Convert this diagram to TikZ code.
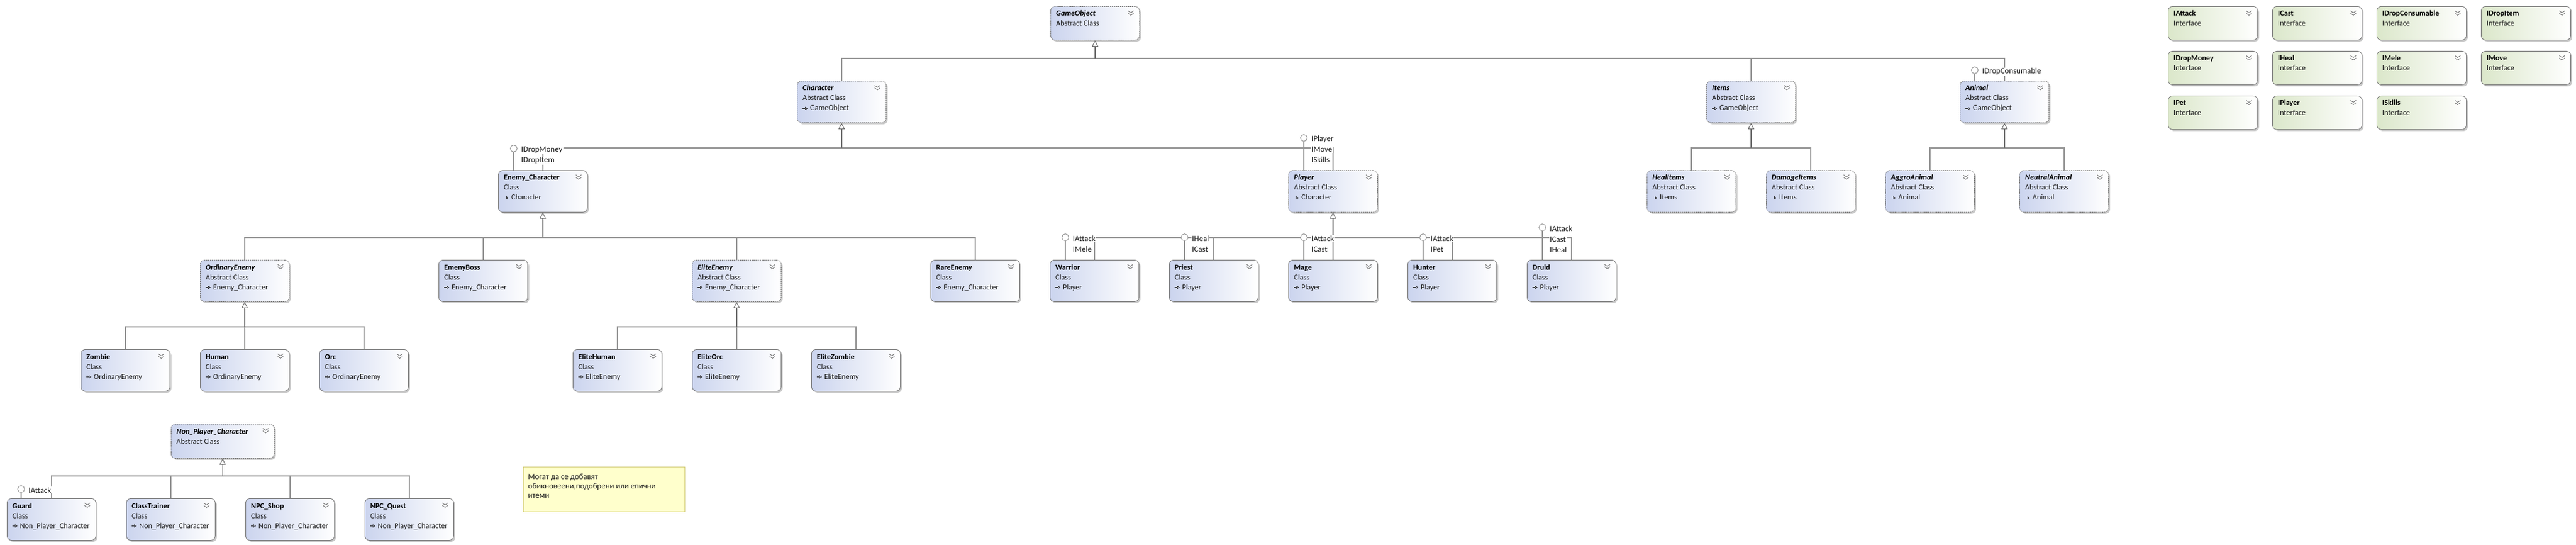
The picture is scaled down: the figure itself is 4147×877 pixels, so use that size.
\documentclass[tikz,border=0pt]{standalone}
\usepackage{fontspec}
\setmainfont{Carlito}
\usetikzlibrary{arrows.meta,shadows,calc}
\definecolor{clsblue}{RGB}{203,212,238}
\definecolor{ifgreen}{RGB}{219,231,202}
\definecolor{boxline}{RGB}{118,118,118}
\definecolor{linegray}{RGB}{150,150,150}
\definecolor{trunkgray}{RGB}{112,112,112}
\definecolor{notefill}{RGB}{255,255,204}
\definecolor{noteline}{RGB}{212,206,126}
\definecolor{txt}{RGB}{30,30,30}
\tikzset{
  boxbase/.style={rounded corners=7pt, draw=boxline, line width=0.8pt, left color=clsblue, right color=white,
    drop shadow={shadow xshift=2.5pt, shadow yshift=-2.5pt, fill=black!35, opacity=0.6}, inner sep=0pt},
  clsbox/.style={boxbase},
  absbox/.style={boxbase, dash pattern=on 2pt off 1.2pt},
  ifbox/.style={boxbase, left color=ifgreen},
  ttl/.style={font=\fontsize{12.3}{14}\selectfont\bfseries, text=black, inner sep=0pt},
  sub/.style={font=\fontsize{12.3}{14}\selectfont\upshape\mdseries, text=txt, inner sep=0pt},
  chev/.style={draw=black!55, line width=0.9pt},
  smarr/.style={draw=txt, line width=0.7pt, -{Triangle[open, length=4pt, width=5pt]}},
  br/.style={draw=linegray, line width=1.2pt},
  trk/.style={draw=trunkgray, line width=1.6pt, -{Triangle[open, length=10pt, width=10pt, line width=1pt, fill=white]}},
  lolli/.style={circle, draw=linegray, fill=white, line width=1pt, minimum size=11pt, inner sep=0pt},
  lbl/.style={anchor=base west, fill=white, inner xsep=1pt, inner ysep=1pt, text=txt, font=\fontsize{13}{15}\selectfont\upshape},
  notebox/.style={draw=noteline, fill=notefill, line width=1.2pt, inner sep=0pt},
  notetxt/.style={anchor=base west, inner sep=0pt, text=txt, font=\fontsize{13}{15}\selectfont\upshape}
}
% #1 name, #2 x, #3 y, #4 w, #5 h, #6 style, #7 title, #8 subtitle
\newcommand\umlbox[8]{%
  \node[#6, minimum width=#4pt, minimum height=#5pt, anchor=north west] (#1) at (#2,#3) {};
  \node[ttl, anchor=base west] (#1t) at (#2+9,#3+16) {#7};
  \node[sub, anchor=base west] (#1s) at (#2+9,#3+32) {#8};
  \draw[chev] (#2+#4-18,#3+7.5) -- (#2+#4-13.5,#3+10.5) -- (#2+#4-9,#3+7.5);
  \draw[chev] (#2+#4-18,#3+11.5) -- (#2+#4-13.5,#3+14.5) -- (#2+#4-9,#3+11.5);
}
% #1 name, #2 x, #3 y, #4 parent
\newcommand\umlpar[4]{%
  \draw[smarr] (#2+9,#3+44.5) -- (#2+17,#3+44.5);
  \node[sub, anchor=base west] (#1p) at (#2+21,#3+48) {#4};
}
\begin{document}
\begin{tikzpicture}[x=1pt,y=-1pt]
\fill[white] (0,0) rectangle (4147,877);
\useasboundingbox (0,0) rectangle (4147,877);

% ---- boxes
\umlbox{go}{1691}{10}{143}{54}{absbox}{\itshape GameObject}{Abstract Class}
\umlbox{chr}{1283}{130}{143}{67}{absbox}{\itshape Character}{Abstract Class}\umlpar{chr}{1283}{130}{GameObject}
\umlbox{itm}{2747}{130}{143}{67}{absbox}{\itshape Items}{Abstract Class}\umlpar{itm}{2747}{130}{GameObject}
\umlbox{anm}{3155}{130}{143}{67}{absbox}{\itshape Animal}{Abstract Class}\umlpar{anm}{3155}{130}{GameObject}

\umlbox{ench}{802}{274}{143}{67}{clsbox}{Enemy\_Character}{Class}\umlpar{ench}{802}{274}{Character}
\umlbox{plr}{2074}{274}{143}{67}{absbox}{\itshape Player}{Abstract Class}\umlpar{plr}{2074}{274}{Character}
\umlbox{heal}{2651}{274}{143}{67}{absbox}{\itshape HealItems}{Abstract Class}\umlpar{heal}{2651}{274}{Items}
\umlbox{dmg}{2843}{274}{143}{67}{absbox}{\itshape DamageItems}{Abstract Class}\umlpar{dmg}{2843}{274}{Items}
\umlbox{aggr}{3035}{274}{143}{67}{absbox}{\itshape AggroAnimal}{Abstract Class}\umlpar{aggr}{3035}{274}{Animal}
\umlbox{neut}{3251}{274}{143}{67}{absbox}{\itshape NeutralAnimal}{Abstract Class}\umlpar{neut}{3251}{274}{Animal}

\umlbox{ord}{322}{418}{143}{67}{absbox}{\itshape OrdinaryEnemy}{Abstract Class}\umlpar{ord}{322}{418}{Enemy\_Character}
\umlbox{boss}{706}{418}{143}{67}{clsbox}{EmenyBoss}{Class}\umlpar{boss}{706}{418}{Enemy\_Character}
\umlbox{elite}{1114}{418}{143}{67}{absbox}{\itshape EliteEnemy}{Abstract Class}\umlpar{elite}{1114}{418}{Enemy\_Character}
\umlbox{rare}{1498}{418}{143}{67}{clsbox}{RareEnemy}{Class}\umlpar{rare}{1498}{418}{Enemy\_Character}
\umlbox{war}{1690}{418}{143}{67}{clsbox}{Warrior}{Class}\umlpar{war}{1690}{418}{Player}
\umlbox{pri}{1882}{418}{143}{67}{clsbox}{Priest}{Class}\umlpar{pri}{1882}{418}{Player}
\umlbox{mag}{2074}{418}{143}{67}{clsbox}{Mage}{Class}\umlpar{mag}{2074}{418}{Player}
\umlbox{hun}{2266}{418}{143}{67}{clsbox}{Hunter}{Class}\umlpar{hun}{2266}{418}{Player}
\umlbox{dru}{2458}{418}{143}{67}{clsbox}{Druid}{Class}\umlpar{dru}{2458}{418}{Player}

\umlbox{zom}{130}{562}{143}{67}{clsbox}{Zombie}{Class}\umlpar{zom}{130}{562}{OrdinaryEnemy}
\umlbox{hum}{322}{562}{143}{67}{clsbox}{Human}{Class}\umlpar{hum}{322}{562}{OrdinaryEnemy}
\umlbox{orc}{514}{562}{143}{67}{clsbox}{Orc}{Class}\umlpar{orc}{514}{562}{OrdinaryEnemy}
\umlbox{ehum}{922}{562}{143}{67}{clsbox}{EliteHuman}{Class}\umlpar{ehum}{922}{562}{EliteEnemy}
\umlbox{eorc}{1114}{562}{143}{67}{clsbox}{EliteOrc}{Class}\umlpar{eorc}{1114}{562}{EliteEnemy}
\umlbox{ezom}{1306}{562}{143}{67}{clsbox}{EliteZombie}{Class}\umlpar{ezom}{1306}{562}{EliteEnemy}

\umlbox{npc}{275}{682}{166}{55}{absbox}{\itshape Non\_Player\_Character}{Abstract Class}
\umlbox{grd}{11}{802}{143}{67}{clsbox}{Guard}{Class}\umlpar{grd}{11}{802}{Non\_Player\_Character}
\umlbox{ctr}{203}{802}{143}{67}{clsbox}{ClassTrainer}{Class}\umlpar{ctr}{203}{802}{Non\_Player\_Character}
\umlbox{shop}{395}{802}{143}{67}{clsbox}{NPC\_Shop}{Class}\umlpar{shop}{395}{802}{Non\_Player\_Character}
\umlbox{qst}{587}{802}{143}{67}{clsbox}{NPC\_Quest}{Class}\umlpar{qst}{587}{802}{Non\_Player\_Character}

% interfaces
\umlbox{iatk}{3490}{10}{144}{54}{ifbox}{IAttack}{Interface}
\umlbox{icst}{3658}{10}{144}{54}{ifbox}{ICast}{Interface}
\umlbox{idcn}{3826}{10}{144}{54}{ifbox}{IDropConsumable}{Interface}
\umlbox{idit}{3994}{10}{144}{54}{ifbox}{IDropItem}{Interface}
\umlbox{idmn}{3490}{82}{144}{54}{ifbox}{IDropMoney}{Interface}
\umlbox{ihea}{3658}{82}{144}{54}{ifbox}{IHeal}{Interface}
\umlbox{imel}{3826}{82}{144}{54}{ifbox}{IMele}{Interface}
\umlbox{imov}{3994}{82}{144}{54}{ifbox}{IMove}{Interface}
\umlbox{ipet}{3490}{154}{144}{54}{ifbox}{IPet}{Interface}
\umlbox{iply}{3658}{154}{144}{54}{ifbox}{IPlayer}{Interface}
\umlbox{iskl}{3826}{154}{144}{54}{ifbox}{ISkills}{Interface}

% note
\node[notebox, minimum width=260pt, minimum height=72pt, anchor=north west] (note) at (842,751) {};
\node[notetxt] (note1) at (850,771) {Могат да се добавят};
\node[notetxt] (note2) at (850,786) {обикновеени,подобрени или епични};
\node[notetxt] (note3) at (850,801) {итеми};

% ---- bus coordinates
\coordinate (b0) at (0,94);
\coordinate (b1) at (0,238);
\coordinate (b2) at (0,382);
\coordinate (b3) at (0,526);
\coordinate (b4) at (0,766);

% ---- inheritance
\draw[br] (chr.north) -- (chr.north |- b0) -- (anm.north |- b0) -- (anm.north);
\draw[br] (itm.north) -- (itm.north |- b0);
\draw[trk] (go.south |- b0) -- (go.south);

\draw[br] (ench.north) -- (ench.north |- b1) -- (plr.north |- b1) -- (plr.north);
\draw[trk] (chr.south |- b1) -- (chr.south);
\draw[br] (heal.north) -- (heal.north |- b1) -- (dmg.north |- b1) -- (dmg.north);
\draw[trk] (itm.south |- b1) -- (itm.south);
\draw[br] (aggr.north) -- (aggr.north |- b1) -- (neut.north |- b1) -- (neut.north);
\draw[trk] (anm.south |- b1) -- (anm.south);

\draw[br] (ord.north) -- (ord.north |- b2) -- (rare.north |- b2) -- (rare.north);
\draw[br] (boss.north) -- (boss.north |- b2);
\draw[br] (elite.north) -- (elite.north |- b2);
\draw[trk] (ench.south |- b2) -- (ench.south);
\draw[br] (war.north) -- (war.north |- b2) -- (dru.north |- b2) -- (dru.north);
\draw[br] (pri.north) -- (pri.north |- b2);
\draw[br] (mag.north) -- (mag.north |- b2);
\draw[br] (hun.north) -- (hun.north |- b2);
\draw[trk] (plr.south |- b2) -- (plr.south);

\draw[br] (zom.north) -- (zom.north |- b3) -- (orc.north |- b3) -- (orc.north);
\draw[br] (hum.north) -- (hum.north |- b3);
\draw[trk] (ord.south |- b3) -- (ord.south);
\draw[br] (ehum.north) -- (ehum.north |- b3) -- (ezom.north |- b3) -- (ezom.north);
\draw[br] (eorc.north) -- (eorc.north |- b3);
\draw[trk] (elite.south |- b3) -- (elite.south);

\draw[br] (grd.north) -- (grd.north |- b4) -- (qst.north |- b4) -- (qst.north);
\draw[br] (ctr.north) -- (ctr.north |- b4);
\draw[br] (shop.north) -- (shop.north |- b4);
\draw[trk] (npc.south |- b4) -- (npc.south);

% ---- lollipops
\node[lolli] (lpEC) at (827,239) {};
\node[lolli] (lpPl) at (2099,222) {};
\node[lolli] (lpAn) at (3179,113) {};
\node[lolli] (lpWa) at (1715,382) {};
\node[lolli] (lpPr) at (1907,382) {};
\node[lolli] (lpMa) at (2099,382) {};
\node[lolli] (lpHu) at (2291,382) {};
\node[lolli] (lpDr) at (2483,366) {};
\node[lolli] (lpGu) at (34,787) {};
\draw[br] (lpEC) -- (lpEC |- ench.north);
\draw[br] (lpPl) -- (lpPl |- plr.north);
\draw[br] (lpAn) -- (lpAn |- anm.north);
\draw[br] (lpWa) -- (lpWa |- war.north);
\draw[br] (lpPr) -- (lpPr |- pri.north);
\draw[br] (lpMa) -- (lpMa |- mag.north);
\draw[br] (lpHu) -- (lpHu |- hun.north);
\draw[br] (lpDr) -- (lpDr |- dru.north);
\draw[br] (lpGu) -- (lpGu |- grd.north);

% ---- interface labels
\node[lbl] (lEC1) at (838,245) {IDropMoney};
\node[lbl] (lEC2) at (838,262) {IDropItem};
\node[lbl] (lPl1) at (2110,228) {IPlayer};
\node[lbl] (lPl2) at (2110,245) {IMove};
\node[lbl] (lPl3) at (2110,262) {ISkills};
\node[lbl] (lAn1) at (3190,119) {IDropConsumable};
\node[lbl] (lWa1) at (1726,388) {IAttack};
\node[lbl] (lWa2) at (1726,405) {IMele};
\node[lbl] (lPr1) at (1918,388) {IHeal};
\node[lbl] (lPr2) at (1918,405) {ICast};
\node[lbl] (lMa1) at (2110,388) {IAttack};
\node[lbl] (lMa2) at (2110,405) {ICast};
\node[lbl] (lHu1) at (2302,388) {IAttack};
\node[lbl] (lHu2) at (2302,405) {IPet};
\node[lbl] (lDr1) at (2494,372) {IAttack};
\node[lbl] (lDr2) at (2494,389) {ICast};
\node[lbl] (lDr3) at (2494,406) {IHeal};
\node[lbl] (lGu1) at (45,793) {IAttack};
\end{tikzpicture}
\end{document}
